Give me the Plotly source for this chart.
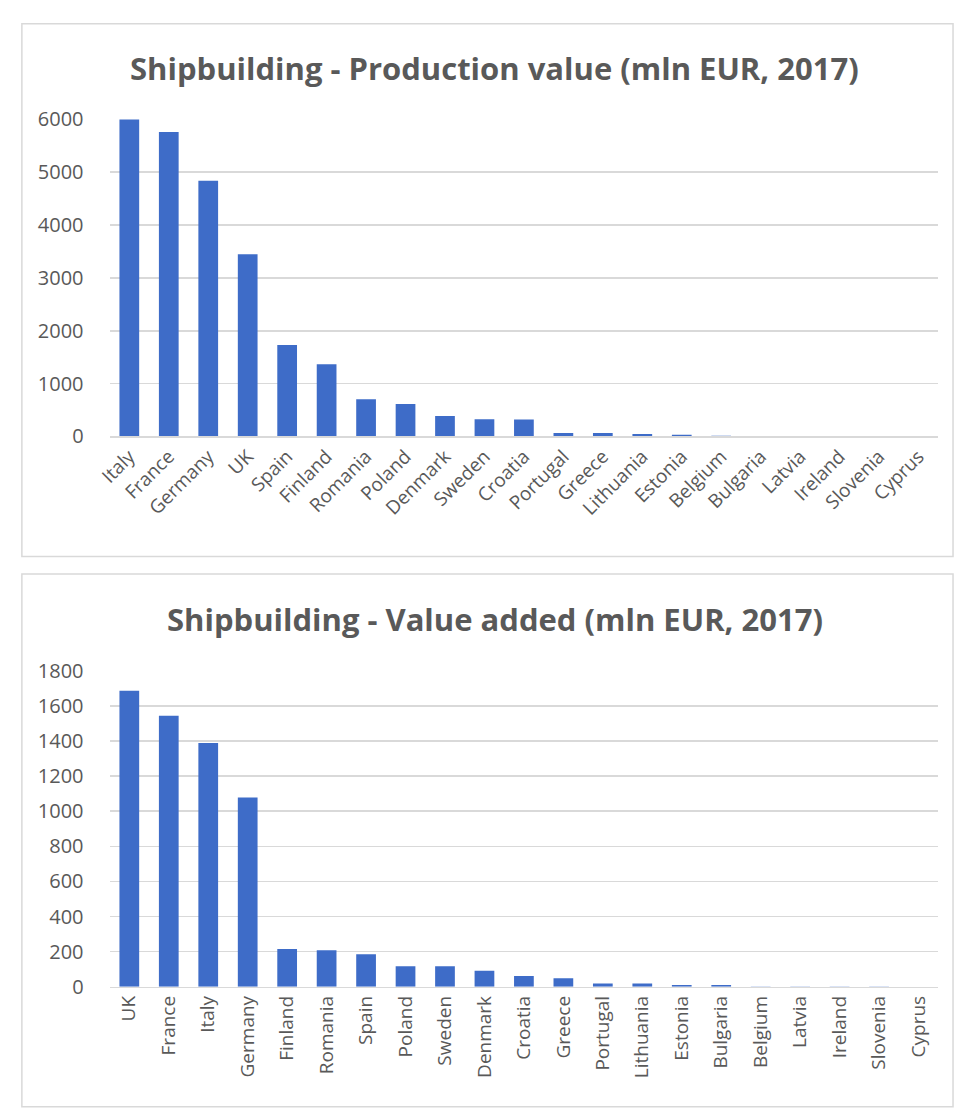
import plotly.graph_objects as go

# Production value (mln EUR, 2017)
prod_countries = ["Italy", "France", "Germany", "UK", "Spain", "Finland", "Romania",
                  "Poland", "Denmark", "Sweden", "Croatia", "Portugal", "Greece",
                  "Lithuania", "Estonia", "Belgium", "Bulgaria", "Latvia", "Ireland",
                  "Slovenia", "Cyprus"]
prod_values = [6010, 5760, 4840, 3450, 1730, 1365, 705, 613, 390, 325, 323, 65, 65,
               45, 32, 13, 3, 2, 2, 1, 0]

# Value added (mln EUR, 2017)
va_countries = ["UK", "France", "Italy", "Germany", "Finland", "Romania", "Spain",
                "Poland", "Sweden", "Denmark", "Croatia", "Greece", "Portugal",
                "Lithuania", "Estonia", "Bulgaria", "Belgium", "Latvia", "Ireland",
                "Slovenia", "Cyprus"]
va_values = [1685, 1543, 1388, 1078, 215, 208, 185, 117, 117, 92, 61, 48, 19, 19,
             10, 10, 2, 1, 1, 1, 0]

prod_ticks = [0, 1000, 2000, 3000, 4000, 5000, 6000]
va_ticks = [0, 200, 400, 600, 800, 1000, 1200, 1400, 1600, 1800]

W, H = 955, 1112
BAR = "#3e6cc8"
GRID = "#d9d9d9"
TXT = "#595959"
FONT = "Open Sans"

def py(p):
    return 1 - p / H

def px(p):
    return p / W

fig = go.Figure()
fig.add_trace(go.Bar(x=prod_countries, y=prod_values, marker=dict(color=BAR, line=dict(width=0)),
                     xaxis="x", yaxis="y", width=0.5, hoverinfo="x+y"))
fig.add_trace(go.Bar(x=va_countries, y=va_values, marker=dict(color=BAR, line=dict(width=0)),
                     xaxis="x2", yaxis="y2", width=0.5, hoverinfo="x+y"))

xcommon = dict(showgrid=False, showline=True, linecolor=GRID, linewidth=1.5,
               ticks="", tickfont=dict(family=FONT, size=19, color=TXT), fixedrange=True)
ycommon = dict(showgrid=True, gridcolor=GRID, gridwidth=1.5, zeroline=False,
               showline=False, ticks="outside", ticklen=21, tickcolor="rgba(0,0,0,0)",
               tickfont=dict(family=FONT, size=20, color=TXT), fixedrange=True)

fig.update_layout(
    width=W, height=H,
    margin=dict(l=0, r=0, t=0, b=0),
    paper_bgcolor="white", plot_bgcolor="white",
    showlegend=False,
    bargap=0.5,
    xaxis=dict(domain=[px(97), px(938)], anchor="y", tickangle=-45, **xcommon),
    yaxis=dict(domain=[py(433), py(108)], anchor="x", range=[0, 6000],
               tickvals=prod_ticks, **ycommon),
    xaxis2=dict(domain=[px(97), px(938)], anchor="y2", tickangle=-90, **xcommon),
    yaxis2=dict(domain=[py(997), py(673)], anchor="x2", range=[0, 1800],
                tickvals=va_ticks, **ycommon),
    shapes=[
        dict(type="rect", xref="paper", yref="paper", x0=px(8), x1=px(953),
             y0=py(556), y1=py(10), line=dict(color=GRID, width=1.5), layer="below"),
        dict(type="rect", xref="paper", yref="paper", x0=px(8), x1=px(953),
             y0=py(1120), y1=py(574), line=dict(color=GRID, width=1.5), layer="below"),
    ],
    annotations=[
        dict(text="<b>Shipbuilding - Production value (mln EUR, 2017)</b>", xref="paper",
             yref="paper", x=px(488), y=py(55), showarrow=False, xanchor="center",
             yanchor="middle", font=dict(family=FONT, size=31, color=TXT)),
        dict(text="<b>Shipbuilding - Value added (mln EUR, 2017)</b>", xref="paper",
             yref="paper", x=px(488), y=py(620), showarrow=False, xanchor="center",
             yanchor="middle", font=dict(family=FONT, size=31, color=TXT)),
    ],
)

post = ("document.body.style.margin='0';document.body.style.overflow='hidden';"
        "var d=document.getElementById('{plot_id}');"
        "d.style.position='fixed';d.style.left='0px';d.style.top='0px';")

fig.write_html("out.html", config={"displayModeBar": False, "staticPlot": True},
               post_script=post)
